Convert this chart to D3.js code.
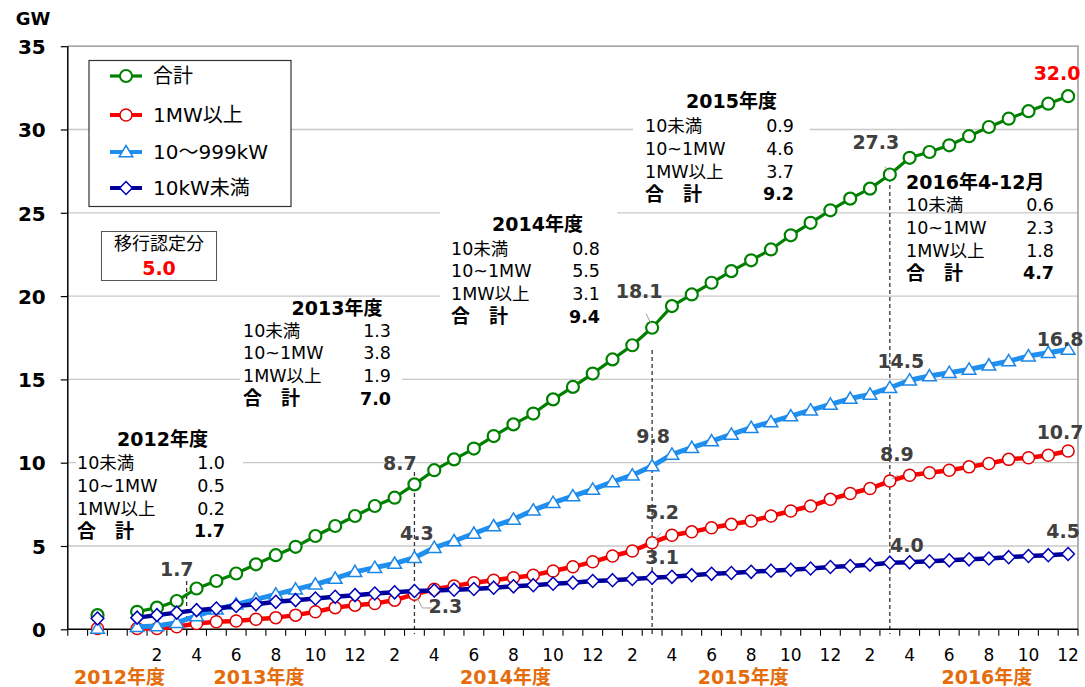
<!DOCTYPE html>
<html><head><meta charset="utf-8">
<script src="https://cdn.jsdelivr.net/npm/d3@7"></script>
<style>body{margin:0;background:#fff}</style>
</head><body>
<svg id="c" width="1085" height="687"></svg>
<script>
// ---------- DATA ----------
const categories = ["2012-x","2012","2012-y",
 "2013-01","2013-02","2013-03","2013-04","2013-05","2013-06","2013-07","2013-08","2013-09","2013-10","2013-11","2013-12",
 "2014-01","2014-02","2014-03","2014-04","2014-05","2014-06","2014-07","2014-08","2014-09","2014-10","2014-11","2014-12",
 "2015-01","2015-02","2015-03","2015-04","2015-05","2015-06","2015-07","2015-08","2015-09","2015-10","2015-11","2015-12",
 "2016-01","2016-02","2016-03","2016-04","2016-05","2016-06","2016-07","2016-08","2016-09","2016-10","2016-11","2016-12"];

const seriesNames = ["合計","1MW以上","10～999kW","10kW未満"];

const total = [null,0.85,null,
 1.05,1.3,1.7,2.45,2.9,3.35,3.9,4.45,4.95,5.6,6.2,6.8,7.4,7.9,8.7,
 9.55,10.2,10.85,11.6,12.3,12.95,13.8,14.55,15.35,16.2,17.05,18.1,
 19.4,20.1,20.8,21.5,22.15,22.8,23.65,24.4,25.15,25.85,26.45,27.3,
 28.3,28.65,29.05,29.6,30.15,30.65,31.1,31.55,32.0];

const mw1 = [null,0.05,null,
 0.05,0.05,0.15,0.35,0.45,0.5,0.6,0.7,0.85,1.05,1.3,1.45,1.55,1.75,2.1,
 2.4,2.6,2.8,2.95,3.1,3.25,3.5,3.75,4.05,4.4,4.7,5.2,
 5.65,5.85,6.1,6.3,6.5,6.8,7.1,7.4,7.8,8.15,8.45,8.9,
 9.25,9.4,9.55,9.75,9.95,10.2,10.3,10.45,10.7];

const kw10to999 = [null,0.05,null,
 0.15,0.2,0.4,0.8,1.2,1.5,1.8,2.1,2.4,2.7,3.05,3.45,3.7,3.95,4.3,
 4.9,5.3,5.75,6.2,6.6,7.15,7.6,8.0,8.4,8.85,9.25,9.8,
 10.5,10.9,11.3,11.7,12.1,12.45,12.8,13.15,13.5,13.85,14.1,14.5,
 14.95,15.2,15.4,15.6,15.85,16.1,16.4,16.6,16.8];

const kw10 = [null,0.65,null,
 0.7,0.85,1.0,1.15,1.25,1.4,1.5,1.65,1.75,1.85,1.95,2.05,2.15,2.22,2.3,
 2.33,2.38,2.42,2.5,2.58,2.65,2.74,2.8,2.9,2.95,3.02,3.1,
 3.15,3.25,3.33,3.38,3.45,3.52,3.58,3.65,3.74,3.8,3.88,4.0,
 4.02,4.08,4.14,4.2,4.25,4.33,4.4,4.45,4.52];

const yTicks = [0,5,10,15,20,25,30,35];
const fiscalYears = ["2012年度","2013年度","2014年度","2015年度","2016年度"];

const table2012 = [["10未満","1.0"],["10~1MW","0.5"],["1MW以上","0.2"],["合　計","1.7"]];
const table2013 = [["10未満","1.3"],["10~1MW","3.8"],["1MW以上","1.9"],["合　計","7.0"]];
const table2014 = [["10未満","0.8"],["10~1MW","5.5"],["1MW以上","3.1"],["合　計","9.4"]];
const table2015 = [["10未満","0.9"],["10~1MW","4.6"],["1MW以上","3.7"],["合　計","9.2"]];
const table2016 = [["10未満","0.6"],["10~1MW","2.3"],["1MW以上","1.8"],["合　計","4.7"]];
const tableTitles = ["2012年度","2013年度","2014年度","2015年度","2016年4-12月"];
const transferLabel = "移行認定分";
const transferValue = "5.0";

// ---------- LAYOUT / STYLE ----------
const F = "'DejaVu Sans','Noto Sans CJK JP',sans-serif";
const svg = d3.select("#c");
const X0 = 67.8, X1 = 1078, Y0 = 629.3, Y1 = 46.2;

const x = d3.scaleBand().domain(d3.range(categories.length)).range([X0, X1]).padding(0);
const y = d3.scaleLinear().domain([0,35]).range([Y0, Y1]);
const cx = i => x(i) + x.bandwidth()/2;
const bw = x.bandwidth();

const series = [
 {name: seriesNames[0], data: total, color:"#008000", mcolor:"#008000", lw:3.2, marker:"circle"},
 {name: seriesNames[1], data: mw1, color:"#ff0000", mcolor:"#e00000", lw:4.5, marker:"circle"},
 {name: seriesNames[2], data: kw10to999, color:"#1f8ff0", mcolor:"#1a86e8", lw:5, marker:"triangle"},
 {name: seriesNames[3], data: kw10, color:"#000099", mcolor:"#0000b8", lw:4.5, marker:"diamond"}
];

// grid
svg.append("g").selectAll("line").data(yTicks.filter(v=>v>0 && v<35)).join("line")
  .attr("x1",X0).attr("x2",X1).attr("y1",d=>y(d)).attr("y2",d=>y(d))
  .attr("stroke","#c8c8c8").attr("stroke-width",1.3);
svg.append("path").attr("d",`M${X0},${y(35)}H${X1}V${Y0}`).attr("fill","none").attr("stroke","#8a8a8a").attr("stroke-width",1.3);

const tableLayout = [
 {rows: table2012, title: tableTitles[0], tx:162.5, ty:439, lx:77, vr:225, ry:463, bg:[76,428,167,113]},
 {rows: table2013, title: tableTitles[1], tx:337, ty:308, lx:243, vr:391, ry:330.5, bg:[240,297,162,113]},
 {rows: table2014, title: tableTitles[2], tx:537.5, ty:224, lx:451, vr:600, ry:248.5, bg:[440,206,177,120]},
 {rows: table2015, title: tableTitles[3], tx:731.5, ty:101.5, lx:645, vr:794, ry:126, bg:[633,90,177,115]},
 {rows: table2016, title: tableTitles[4], tx:906, ty:182, lx:906, vr:1054, ry:205, bg:null, anchor:"start"}
];
tableLayout.forEach(t=>{
  if (t.bg) svg.append("rect").attr("x",t.bg[0]).attr("y",t.bg[1]).attr("width",t.bg[2]).attr("height",t.bg[3]).attr("fill","#fff");
});

// dashed markers
const dashLayout = [{i:5, edge:true, top:581},{i:17, top:472},{i:29, top:350},{i:41, top:178}];
svg.append("g").selectAll("line").data(dashLayout).join("line")
  .attr("x1",d=> d.edge ? x(d.i)+bw : cx(d.i)).attr("x2",d=> d.edge ? x(d.i)+bw : cx(d.i))
  .attr("y1",d=>d.top).attr("y2",634)
  .attr("stroke","#333").attr("stroke-width",1.3).attr("stroke-dasharray","4,3");

// axes
const yAxis = d3.axisLeft(y).tickValues(yTicks).tickSize(7).tickPadding(15);
const gy = svg.append("g").attr("transform",`translate(${X0},0)`).call(yAxis);
gy.select(".domain").remove();
gy.selectAll("line").attr("stroke","#000").attr("stroke-width",1.2);
gy.selectAll("text").attr("font-family",F).attr("font-size",20).attr("font-weight","bold").attr("fill","#000").attr("dy","0.36em");
svg.append("line").attr("x1",X0).attr("x2",X0).attr("y1",Y1).attr("y2",Y0).attr("stroke","#000").attr("stroke-width",1.5);

const monthLabel = i => { const c = categories[i]; const m = c.match(/^\d{4}-(\d{2})$/); if(!m) return ""; const mm = +m[1]; return mm%2===0 ? String(mm) : ""; };
const xAxis = d3.axisBottom(x).tickSize(0).tickFormat(monthLabel);
const gx = svg.append("g").attr("transform",`translate(0,${Y0})`).call(xAxis);
gx.select(".domain").remove();
gx.selectAll("text").attr("font-family",F).attr("font-size",17).attr("fill","#000").attr("y",26).attr("dy","0.36em");
svg.append("g").selectAll("line").data(d3.range(categories.length+1)).join("line")
  .attr("x1",i=> i<categories.length ? x(i) : X1).attr("x2",i=> i<categories.length ? x(i) : X1)
  .attr("y1",Y0).attr("y2",Y0+6.5).attr("stroke","#000").attr("stroke-width",1.1);
svg.append("line").attr("x1",X0).attr("x2",X1).attr("y1",Y0).attr("y2",Y0).attr("stroke","#000").attr("stroke-width",1.5);

// fiscal year labels
const fyAt = [2.61, 9.65, 22.1, 34.1, 46.4];
svg.append("g").selectAll("text").data(fiscalYears).join("text")
  .attr("x",(d,k)=> X0 + fyAt[k]*bw).attr("y",677).attr("dy","0.36em")
  .attr("text-anchor","middle").attr("font-family",F).attr("font-size",19).attr("font-weight","bold")
  .attr("fill","#e46c0a").text(d=>d);

// GW
svg.append("text").attr("x",33).attr("y",19).attr("dy","0.36em").attr("text-anchor","middle")
  .attr("font-family",F).attr("font-size",18).attr("font-weight","bold").text("GW");

// series
const markerPath = {
  triangle: "M0,-6.5L6.8,4.8L-6.8,4.8Z",
  diamond: "M0,-6.5L6.3,0L0,6.5L-6.3,0Z"
};
function drawMarker(g, type, color, sw){
  if (type==="circle") return g.append("circle").attr("r",6).attr("fill","#fff").attr("stroke",color).attr("stroke-width",sw);
  return g.append("path").attr("d",markerPath[type]).attr("fill","#fff").attr("stroke",color).attr("stroke-width",sw);
}
const line = d3.line().defined(d=>d.v!=null).x(d=>cx(d.i)).y(d=>y(d.v));
series.forEach((s,k)=>{
  const pts = s.data.map((v,i)=>({i,v}));
  svg.append("path").datum(pts).attr("d",line).attr("fill","none").attr("stroke",s.color).attr("stroke-width",s.lw).attr("stroke-linejoin","round");
  const g = svg.append("g");
  pts.filter(p=>p.v!=null).forEach(p=>{
    const m = g.append("g").attr("transform",`translate(${cx(p.i)},${y(p.v)})`);
    drawMarker(m, s.marker, s.mcolor, k===0?2.2:1.5);
  });
});

// leader lines
const leaders = [
 {s:3,i:17,pts:[[2,6],[8,17],[17,17]]},
 {s:0,i:29,pts:[[-1,-4],[-6,-14]]},
 {s:1,i:29,pts:[[2,-2],[9,-10]]},
 {s:0,i:41,pts:[[-1,-3],[-5,-8]]},
 {s:1,i:41,pts:[[2,-2],[8,-6]]}
];
leaders.forEach(l=>{
  const d = series[l.s].data; const px = cx(l.i), py = y(d[l.i]);
  svg.append("path").attr("d", d3.line()(l.pts.map(p=>[px+p[0],py+p[1]]))).attr("fill","none").attr("stroke","#a0a0a0").attr("stroke-width",1);
});

// data labels
const labelLayout = [
 {s:0,i:5,dx:0,dy:-32},
 {s:0,i:17,dx:-14.5,dy:-21},{s:2,i:17,dx:2.5,dy:-25},{s:3,i:17,dx:31,dy:15},
 {s:0,i:29,dx:-13,dy:-37},{s:2,i:29,dx:1,dy:-30},{s:1,i:29,dx:10,dy:-31},{s:3,i:29,dx:10,dy:-20},
 {s:0,i:41,dx:-14,dy:-32.5},{s:2,i:41,dx:11,dy:-27},{s:1,i:41,dx:7,dy:-27},{s:3,i:41,dx:17,dy:-18},
 {s:0,i:50,dx:-11,dy:-23,red:true},{s:2,i:50,dx:-8,dy:-10},{s:1,i:50,dx:-8,dy:-19},{s:3,i:50,dx:-5,dy:-23}
];
svg.append("g").selectAll("text").data(labelLayout).join("text")
  .attr("x",d=>cx(d.i)+d.dx).attr("y",d=>y(series[d.s].data[d.i])+d.dy).attr("dy","0.36em")
  .attr("text-anchor","middle").attr("font-family",F).attr("font-size",19).attr("font-weight","bold")
  .attr("fill",d=>d.red?"#ff0000":"#404040")
  .text(d=>d3.format(".1f")(series[d.s].data[d.i]));

// tables text
tableLayout.forEach(t=>{
  svg.append("text").attr("x",t.tx).attr("y",t.ty).attr("dy","0.36em")
    .attr("text-anchor",t.anchor||"middle").attr("font-family",F).attr("font-size",19).attr("font-weight","bold").text(t.title);
  t.rows.forEach((r,k)=>{
    const bold = k===3;
    const yy = t.ry + k*22.6;
    svg.append("text").attr("x",t.lx).attr("y",yy).attr("dy","0.36em").attr("font-family",F)
      .attr("font-size",bold?19:17.5).attr("font-weight",bold?"bold":"normal").text(r[0]);
    svg.append("text").attr("x",t.vr).attr("y",yy).attr("dy","0.36em").attr("text-anchor","end").attr("font-family",F)
      .attr("font-size",17.5).attr("font-weight",bold?"bold":"normal").text(r[1]);
  });
});

// transfer box
svg.append("rect").attr("x",101.5).attr("y",231.5).attr("width",115).attr("height",49).attr("fill","#fff").attr("stroke","#555").attr("stroke-width",1);
svg.append("text").attr("x",159).attr("y",244).attr("dy","0.36em").attr("text-anchor","middle").attr("font-family",F).attr("font-size",18).text(transferLabel);
svg.append("text").attr("x",159).attr("y",268).attr("dy","0.36em").attr("text-anchor","middle").attr("font-family",F).attr("font-size",19).attr("font-weight","bold").attr("fill","#ff0000").text(transferValue);

// legend
const lg = svg.append("g");
lg.append("rect").attr("x",89).attr("y",60.5).attr("width",202).attr("height",146).attr("fill","#fff").attr("stroke","#333").attr("stroke-width",1.2);
const legY = [76, 115, 152, 188];
series.forEach((s,k)=>{
  const yy = legY[k];
  lg.append("line").attr("x1",110).attr("x2",142).attr("y1",yy).attr("y2",yy).attr("stroke",s.color).attr("stroke-width",Math.min(s.lw,4));
  const m = lg.append("g").attr("transform",`translate(126,${yy})`);
  drawMarker(m, s.marker, s.mcolor, k===0?2:1.5);
  lg.append("text").attr("x",153).attr("y",yy).attr("dy","0.36em").attr("font-family",F).attr("font-size",20).text(s.name);
});
</script>
</body></html>
